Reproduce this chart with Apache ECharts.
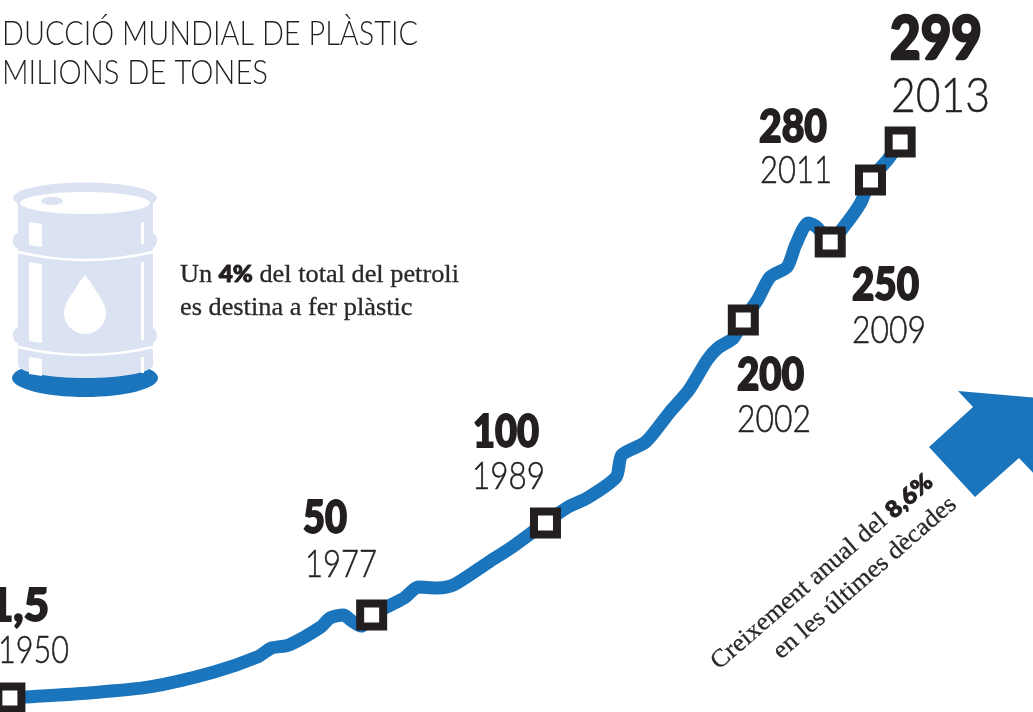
<!DOCTYPE html>
<html><head><meta charset="utf-8">
<style>html,body{margin:0;padding:0;background:#fff}#c{width:1033px;height:712px}</style>
<script src="https://cdn.jsdelivr.net/npm/echarts@6/dist/echarts.min.js"></script>
</head><body><div id="c"></div>
<script>
// Curve
const pathYears = [1950,1951.07,1955.6,1959.9,1964.45,1967.5,1968.5,1969.75,1972,1972.65,1973.6,1974.2,1974.85,1975.6,1977.9,1978.9,1980.2,1981.4,1983.9,1985.45,1987.85,1989.5,1990.85,1992.9,1993.3,1995,1996.7,1998.05,1999.35,2000.1,2001.2,2001.9,2002.9,2003.8,2005,2005.6,2006.5,2007.1,2008.05,2009,2010.2,2010.9,2012.1,2013];
const pathValues = [1.5,2,4.2,7.4,15.4,23.4,28.2,29.9,39.5,44.3,45.9,42.7,40,45.9,55,60.9,60.4,62,74.3,81.8,95.1,103.7,108.5,119.7,131.5,138.5,154.5,166.3,182.4,188.8,194.1,203.8,214.5,226.8,232.1,243.9,255.7,253.5,245.5,253.5,266.4,278.7,289.4,299];
// Square markers, as placed on the drawn curve
const markerYears = [1950,1975.6,1987.9,2001.9,2008.05,2010.9,2013];
const markerValues = [1.5,45.9,95.1,203.8,245.5,278.7,299];
// Printed labels
const bigLabels = ['1,5','50','100','200','250','280','299'];
const yearLabels = ['1950','1977','1989','2002','2009','2011','2013'];
const titleLines = ['DUCCIÓ MUNDIAL DE PLÀSTIC','MILIONS DE TONES'];

const BLUE='#1b75bc', INK='#231f20', PALE='#dbe2f2';
const measure = document.createElement('canvas').getContext('2d');
function fitted(text, font, x0, x1, cy, strokeW){
  measure.font = font;
  const w = measure.measureText(text).width;
  const style = {text, font, fill:INK, align:'left', verticalAlign:'middle'};
  if(strokeW){style.stroke=INK;style.lineWidth=strokeW;}
  return {type:'text', x:x0, y:cy, scaleX:(x1-x0)/w, z:20, style};
}
// layout: [x0,x1,centre y] for each label
const bigPos = [[-12,49,606],[303,347,518],[473,539,432],[737,804,375],[852,919,285],[759,827,127],[890,982,40]];
const yearPos = [[-2,69,651],[305,377,565],[472,545,477],[737,811,420],[852,926,331],[760,832,171],[891,990,97]];
const big = s => `900 ${s}px Lato`;
const light = s => `300 ${s}px Lato`;
const g = [];
bigLabels.forEach((t,i)=>{const p=bigPos[i];const s=i===6?60:45;g.push(fitted(t,big(s),p[0],p[1],p[2],i===6?2.4:1.8));});
yearLabels.forEach((t,i)=>{const p=yearPos[i];const s=i===6?48:37;g.push(fitted(t,light(s),p[0],p[1],p[2],0.5));});
g.push(fitted(titleLines[0],light(34),2,418,34));
g.push(fitted(titleLines[1],light(34),2,268,73));

// body text
const serif='"Liberation Serif"';
const TXT='#2b2829';
const rich={a:{font:`25px ${serif}`,fill:TXT,stroke:TXT,lineWidth:0.3},b:{font:'900 23px Lato',fill:INK,stroke:INK,lineWidth:1}};
g.push({type:'text',x:180,y:275,scaleX:1.053,z:20,style:{text:'{a|Un }{b|4%}{a| del total del petroli}',verticalAlign:'middle',rich}});
g.push({type:'text',x:180,y:308,scaleX:1.053,z:20,style:{text:'es destina a fer plàstic',font:`25px ${serif}`,fill:TXT,stroke:TXT,lineWidth:0.3,verticalAlign:'middle'}});
const ang=41*Math.PI/180;
g.push({type:'text',x:822,y:572,rotation:ang,scaleX:1.05,z:20,style:{text:'{a|Creixement anual del }{b|8,6%}',align:'center',verticalAlign:'middle',rich}});
g.push({type:'text',x:865,y:578,rotation:ang,scaleX:1.05,z:20,style:{text:'en les últimes dècades',font:`25px ${serif}`,fill:TXT,stroke:TXT,lineWidth:0.3,align:'center',verticalAlign:'middle'}});

// arrow
g.push({type:'polygon',z:5,shape:{points:[[958,391],[1040,398],[1040,480],[1019,458],[975,497],[929,447],[973,407]]},style:{fill:BLUE}});

// barrel
const ell=(cx,cy,rx,ry,fill,z)=>({type:'ellipse',z,shape:{cx,cy,rx,ry},style:{fill}});
const rect=(x,y,width,height,fill,z,r)=>({type:'rect',z,shape:{x,y,width,height,r:r||0},style:{fill}});
const poly=(points,fill,z)=>({type:'polygon',z,shape:{points},style:{fill}});
const curve=(y,c)=>({type:'bezierCurve',z:9,shape:{x1:18,y1:y,x2:153,y2:y,cpx1:85,cpy1:c},style:{stroke:'#fff',lineWidth:2.5,fill:null}});
g.push(ell(85,378,73,19,BLUE,5));
g.push(rect(18,200,135,165,PALE,6));
g.push(ell(85.5,365,67.5,13,PALE,6));
g.push(ell(85,198,72,15.5,PALE,7));
g.push(ell(85,203,65,11,'#fff',8));
g.push(ell(52,201,11,4,PALE,9));
g.push(rect(13,232,144,17,PALE,7,8));
g.push(rect(13,327,144,17,PALE,7,8));
g.push(curve(252,268));
g.push(curve(347,363));
[[222,246],[262,342],[357,375]].forEach(s=>{
  g.push(poly([[29,s[0]],[42,s[0]+2],[42,s[1]+1],[29,s[1]-1]],'#fff',9));
  g.push(rect(141,s[0],3,s[1]-s[0]-2,'#fff',9));
});
g.push({type:'circle',z:9,shape:{cx:85,cy:313,r:21},style:{fill:'#fff'}});
g.push(poly([[85,275],[80,281],[76,288],[71,295],[67,302],[103,302],[99,295],[94,288],[90,281]],'#fff',9));

const chart = echarts.init(document.getElementById('c'),null,{renderer:'canvas'});
chart.setOption({
  animation:false,
  backgroundColor:'#fff',
  grid:{left:0,right:0,top:0,bottom:0},
  xAxis:{type:'value',min:1949.3,max:2022.4,show:false},
  yAxis:{type:'value',min:-6,max:375,show:false},
  graphic:{elements:g},
  series:[
    {type:'line',data:pathYears.map((y,i)=>[y,pathValues[i]]),showSymbol:false,smooth:0.25,
     lineStyle:{color:BLUE,width:13,cap:'round',join:'round'},z:10,clip:false},
    {type:'scatter',data:markerYears.map((y,i)=>[y,markerValues[i]]),symbol:'rect',symbolSize:23,
     itemStyle:{color:'#fff',borderColor:INK,borderWidth:8,opacity:1},z:15,clip:false}
  ]
});
</script></body></html>
